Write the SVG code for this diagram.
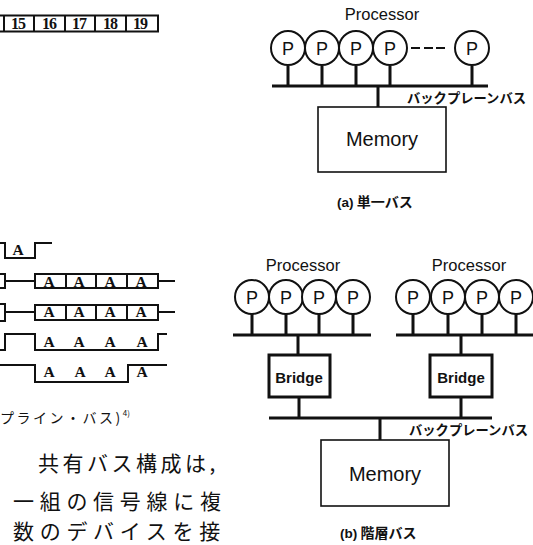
<svg xmlns="http://www.w3.org/2000/svg" width="533" height="545" viewBox="0 0 533 545">
<style>
.s{font-family:"Liberation Sans",Arial,sans-serif;fill:#111}
.j{font-family:"Noto Sans CJK JP",sans-serif;fill:#111;font-weight:bold}
.m{font-family:"Noto Sans CJK JP",serif;fill:#111;font-size:21px}
.t{font-family:"Liberation Serif",serif;fill:#111;font-weight:bold}
.c{fill:#fff;stroke:#111;stroke-width:2}
.r{fill:#fff;stroke:#111;stroke-width:1.6}
.b{fill:#fff;stroke:#111;stroke-width:3}
.l{fill:none;stroke:#111;stroke-width:2}
.h{fill:none;stroke:#111;stroke-width:3}
.w{fill:none;stroke:#111;stroke-width:2}
.p{font-size:18px;text-anchor:middle}
.pr{font-size:16.5px;text-anchor:middle}
.me{font-size:20px;text-anchor:middle}
.br{font-size:15px;font-weight:bold;text-anchor:middle}
.k{font-size:13.3px}
.cap{font-size:14px}
.sm{font-size:14px}
.sup{font-size:8px}
</style>
<g id="connectors">
<path class="h" d="M272 86H488M288 66V86M322 66V86M356 66V86M390 66V86M472 66V86M378 86V107"/>
<path class="w" d="M411 48H420M424 48H433M436 48H445"/>
<path class="h" d="M233 335H371M396 335H533M252 314V335M286 314V335M319 314V335M353 314V335M413 314V335M448 314V335M482 314V335M516 314V335"/>
<path class="h" d="M269 418H492M298 335V355M299 397V418M461 335V355M461 397V418M380 418V440"/>
</g>
<g id="timing">
<path class="l" d="M0 243H5V258H35V243H52"/>
<path class="w" d="M0 274H5V288H0M5 281H35M158 281H175"/>
<path class="w" d="M0 304H5V321H0M5 312H35M158 312H175"/>
<path class="w" d="M35 274H158V288H35ZM66 274V288M96 274V288M127 274V288M35 305H158V320H35ZM66 305V320M96 305V320M127 305V320"/>
<path class="l" d="M0 350H5V334H35V350H158V334H167"/>
<path class="l" d="M0 365H35V382H128V365H167"/>
<g class="t" font-size="15.5" text-anchor="middle">
<text x="18" y="255">A</text>
<text x="49" y="287">A</text><text x="79" y="287">A</text><text x="110" y="287">A</text><text x="141" y="287">A</text>
<text x="49" y="317">A</text><text x="79" y="317">A</text><text x="110" y="317">A</text><text x="141" y="317">A</text>
<text x="49" y="347">A</text><text x="79" y="347">A</text><text x="110" y="347">A</text><text x="142" y="347">A</text>
<text x="49" y="377">A</text><text x="80" y="377">A</text><text x="110" y="377">A</text><text x="142" y="377">A</text>
</g>
</g>
<g id="counter">
<path class="l" d="M0 15.500H158V31.500H0M4 15V32M34 15V32M65 15V32M95 15V32M126 15V32"/>
<g class="t" font-size="16" letter-spacing="-1" text-anchor="middle"><text x="18" y="29">15</text><text x="49" y="29">16</text><text x="79" y="29">17</text><text x="110" y="29">18</text><text x="140" y="29">19</text></g>
</g>
<g id="a-procs">
<text class="s pr" x="382" y="20">Processor</text>
<g id="a-p1"><circle class="c" cx="288" cy="48" r="17"/><text class="s p" x="288" y="55">P</text></g>
<g id="a-p2"><circle class="c" cx="322" cy="48" r="17"/><text class="s p" x="322" y="55">P</text></g>
<g id="a-p3"><circle class="c" cx="356" cy="48" r="17"/><text class="s p" x="356" y="55">P</text></g>
<g id="a-p4"><circle class="c" cx="390" cy="48" r="17"/><text class="s p" x="390" y="55">P</text></g>
<g id="a-p5"><circle class="c" cx="472" cy="48" r="17"/><text class="s p" x="472" y="55">P</text></g>
</g>
<g id="a-memory"><rect class="r" x="318" y="107" width="128" height="65"/><text class="s me" x="382" y="146">Memory</text></g>
<text class="j k" x="407" y="103">バックプレーンバス</text>
<text class="j cap" x="337" y="207"><tspan class="s" font-size="13.500">(a)</tspan> 単一バス</text>
<g id="b-procs">
<text class="s pr" x="303" y="271">Processor</text>
<text class="s pr" x="469" y="271">Processor</text>
<g id="b-p1"><circle class="c" cx="252" cy="297" r="17"/><text class="s p" x="252" y="304">P</text></g>
<g id="b-p2"><circle class="c" cx="286" cy="297" r="17"/><text class="s p" x="286" y="304">P</text></g>
<g id="b-p3"><circle class="c" cx="319" cy="297" r="17"/><text class="s p" x="319" y="304">P</text></g>
<g id="b-p4"><circle class="c" cx="353" cy="297" r="17"/><text class="s p" x="353" y="304">P</text></g>
<g id="b-p5"><circle class="c" cx="413" cy="297" r="17"/><text class="s p" x="413" y="304">P</text></g>
<g id="b-p6"><circle class="c" cx="448" cy="297" r="17"/><text class="s p" x="448" y="304">P</text></g>
<g id="b-p7"><circle class="c" cx="482" cy="297" r="17"/><text class="s p" x="482" y="304">P</text></g>
<g id="b-p8"><circle class="c" cx="516" cy="297" r="17"/><text class="s p" x="516" y="304">P</text></g>
</g>
<g id="b-bridge1"><rect class="b" x="269" y="355" width="61" height="42"/><text class="s br" x="299" y="383">Bridge</text></g>
<g id="b-bridge2"><rect class="b" x="430" y="355" width="62" height="42"/><text class="s br" x="461" y="383">Bridge</text></g>
<g id="b-memory"><rect class="r" x="321" y="440" width="128" height="66"/><text class="s me" x="385" y="481">Memory</text></g>
<text class="j k" x="409" y="435">バックプレーンバス</text>
<text class="j cap" x="340" y="538"><tspan class="s" font-size="13.500">(b)</tspan> 階層バス</text>
<text class="m sm" style="font-size:14px" letter-spacing="2.500" x="0" y="423">プライン・バス)<tspan class="sup" style="font-size:8px" dy="-7" letter-spacing="0">4)</tspan></text>
<text class="m" letter-spacing="3.500" x="38" y="471">共有バス構成は,</text>
<text class="m" letter-spacing="5.700" x="13" y="509">一組の信号線に複</text>
<text class="m" letter-spacing="5.700" x="13" y="539">数のデバイスを接</text>
</svg>
